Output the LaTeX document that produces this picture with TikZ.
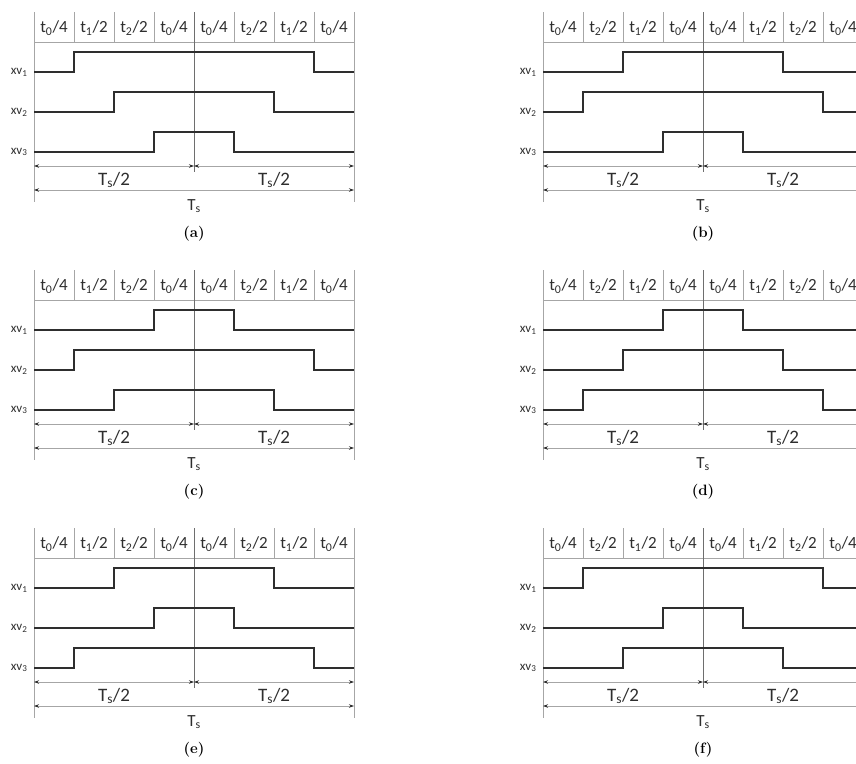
\documentclass[tikz,border=0pt]{standalone}
\usepackage{fontspec}
\newfontfamily\wavefont{Carlito}
\usepackage{xcolor}
\usepackage{tikz}
\usetikzlibrary{arrows.meta}
\definecolor{cwave}{HTML}{2E2E2E}
\definecolor{cgrid}{HTML}{A6A6A6}
\definecolor{cmid}{HTML}{6E6E6E}
\tikzset{
  wave/.style={cwave,line width=2pt},
  grid/.style={cgrid,line width=0.8pt},
  mid/.style={cmid,line width=0.8pt},
  dim/.style={draw=cgrid,line width=0.7pt,{Stealth[length=5pt,width=3.5pt,color=cwave]}-{Stealth[length=5pt,width=3.5pt,color=cwave]}},
  hdr/.style={font=\wavefont\fontsize{17}{19}\selectfont,text=cwave},
  sig/.style={font=\wavefont\fontsize{13}{15}\selectfont,text=cwave,anchor=east},
  per/.style={font=\wavefont\fontsize{19}{21}\selectfont,text=cwave},
  subcap/.style={font=\fontsize{15}{17}\selectfont\bfseries}
}
\newcommand{\tsub}[2]{#1\textsubscript{#2}}

\begin{document}
\begin{tikzpicture}[x=1pt,y=-1pt]
\clip (0,0) rectangle (856,763);
\foreach \p/\px/\py/\ha/\hb/\ka/\kb/\kc in {%
   a/34/42/1/2/1/2/3, b/543/42/2/1/2/1/3,
   c/34/300/1/2/3/1/2, d/543/300/2/1/3/2/1,
   e/34/558/1/2/2/3/1, f/543/558/2/1/1/3/2}{
  \begin{scope}[shift={(\px,\py)}]
    % time slots
    \foreach \k in {1,2,3,5,6,7} \draw[grid] (40*\k,-30) -- (40*\k,0);
    \draw[grid] (0,-30) -- (0,160) (320,-30) -- (320,160) (0,0) -- (320,0);
    \draw[mid] (160,-30) -- (160,130);
    \foreach \k/\n/\d in {0/0/4,1/\ha/2,2/\hb/2,3/0/4,4/0/4,5/\hb/2,6/\ha/2,7/0/4}
      \node[hdr] (h\p\k) at (40*\k+20,-14) {\tsub{t}{\n}/\d};
    % valve signals
    \foreach \i/\s in {1/\ka,2/\kb,3/\kc}{
      \node[sig] (x\p\i) at (-3,40*\i-10) {\tsub{xv}{\i}};
      \draw[wave] (0,40*\i-10) -| (40*\s,40*\i-30) -| (320-40*\s,40*\i-10) -- (320,40*\i-10);
    }
    % period
    \coordinate (l\p) at (0,124);
    \coordinate (m\p) at (160,124);
    \coordinate (r\p) at (320,124);
    \coordinate (L\p) at (0,148);
    \coordinate (R\p) at (320,148);
    \draw[dim] (l\p) -- (m\p);
    \draw[dim] (m\p) -- (r\p);
    \draw[dim] (L\p) -- (R\p);
    \node[per] (hl\p) at (80,138) {\tsub{T}{s}/2};
    \node[per] (hr\p) at (240,138) {\tsub{T}{s}/2};
    \node[hdr] (t\p) at (160,164) {\tsub{T}{s}};
    \node[subcap] (c\p) at (160,192) {(\p)};
  \end{scope}}
\end{tikzpicture}
\end{document}
